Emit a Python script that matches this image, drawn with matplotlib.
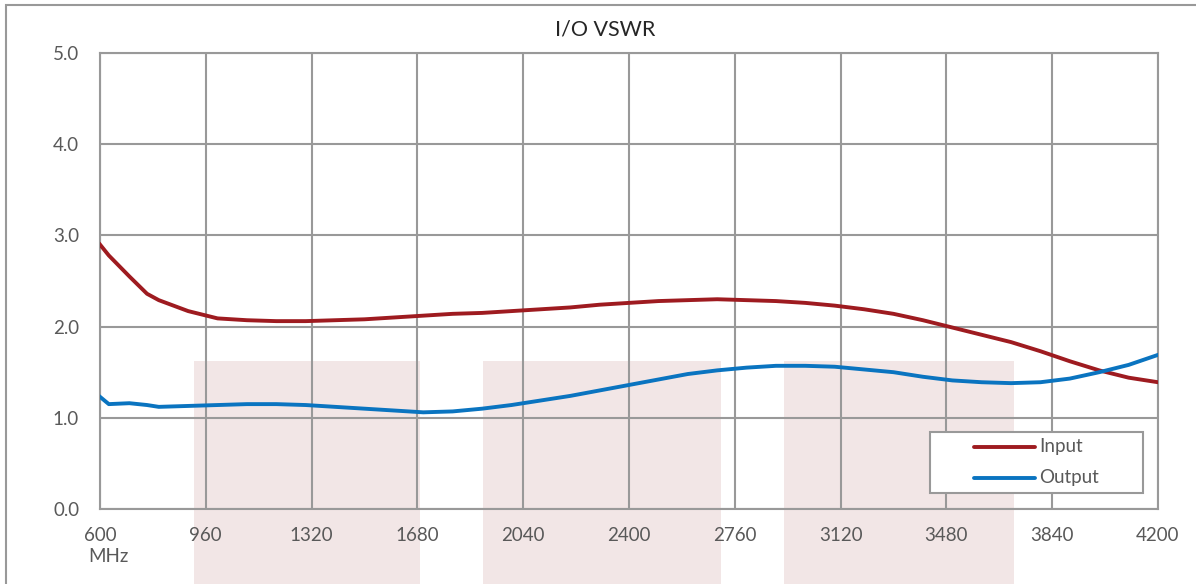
import matplotlib
matplotlib.use("Agg")
import matplotlib.pyplot as plt
from matplotlib.patches import Rectangle

plt.rcParams['font.family'] = ['Lato', 'DejaVu Sans']

# frequency (MHz)
freq = [600, 630, 700, 760, 800, 900, 1000, 1100, 1200, 1300, 1400, 1500, 1600, 1700,
        1800, 1900, 2000, 2100, 2200, 2300, 2400, 2500, 2600, 2700, 2800, 2900, 3000,
        3100, 3200, 3300, 3400, 3500, 3600, 3700, 3800, 3900, 4000, 4100, 4200]
vswr_in = [2.90, 2.78, 2.55, 2.36, 2.29, 2.17, 2.09, 2.07, 2.06, 2.06, 2.07, 2.08, 2.10, 2.12,
           2.14, 2.15, 2.17, 2.19, 2.21, 2.24, 2.26, 2.28, 2.29, 2.30, 2.29, 2.28, 2.26,
           2.23, 2.19, 2.14, 2.07, 1.99, 1.91, 1.83, 1.73, 1.62, 1.52, 1.44, 1.39]
vswr_out = [1.23, 1.15, 1.16, 1.14, 1.12, 1.13, 1.14, 1.15, 1.15, 1.14, 1.12, 1.10, 1.08, 1.06,
            1.07, 1.10, 1.14, 1.19, 1.24, 1.30, 1.36, 1.42, 1.48, 1.52, 1.55, 1.57, 1.57,
            1.56, 1.53, 1.50, 1.45, 1.41, 1.39, 1.38, 1.39, 1.43, 1.50, 1.58, 1.69]

# shaded bands (MHz) and their top level
bands = [(920, 1690), (1903, 2713), (2927, 3710)]
band_top = 1.62

xticks = list(range(600, 4201, 360))
yticks = [0, 1, 2, 3, 4, 5]

fig = plt.figure(figsize=(11.96, 5.84), dpi=100)
ax = fig.add_axes([100/1196, 75/584, 1058/1196, 456/584])
ax.patch.set_alpha(0)

grid_c = '#999999'
txt_c = '#595959'

# outer chart border
fig.patches.append(Rectangle((6/1196, -0.1), 1.2, 1.1 - 5/584, transform=fig.transFigure,
                             fill=False, edgecolor=grid_c, lw=1.5))

for a, b in bands:
    ax.add_patch(Rectangle((a, -2), b - a, band_top + 2, facecolor='#f2e6e6',
                           edgecolor='none', zorder=0.2, clip_on=False))

ax.plot(freq, vswr_in, color='#9e1b20', lw=2.8, zorder=3)
ax.plot(freq, vswr_out, color='#0a74c0', lw=2.8, zorder=3)

ax.set_xlim(600, 4200)
ax.set_ylim(0, 5)
ax.set_xticks(xticks)
ax.set_yticks(yticks)
ax.set_yticklabels([f"{v:.1f}" for v in yticks])
ax.grid(True, color=grid_c, lw=1.5)
ax.set_axisbelow(True)
for s in ax.spines.values():
    s.set_color(grid_c)
    s.set_linewidth(1.5)
ax.tick_params(length=0, labelsize=13.5, labelcolor=txt_c)
ax.tick_params(axis='x', pad=13)
ax.tick_params(axis='y', pad=15)

fig.text(108/1196, (584-556)/584, 'MHz', ha='center', va='center', fontsize=13.5, color=txt_c)
fig.text(605/1196, (584-30)/584, 'I/O VSWR', ha='center', va='center', fontsize=15.5, color='#262626')

# legend box
ax.add_patch(Rectangle((0.7845, 0.035), 0.2013, 0.134, transform=ax.transAxes,
                       facecolor='white', edgecolor=grid_c, lw=1.5, zorder=5))
for yy, c, lab in [(0.136, '#9e1b20', 'Input'), (0.068, '#0a74c0', 'Output')]:
    ax.plot([0.826, 0.884], [yy, yy], color=c, lw=2.8, transform=ax.transAxes,
            zorder=6, solid_capstyle='round')
    ax.text(0.888, yy, lab, transform=ax.transAxes, va='center', ha='left',
            fontsize=13.5, color=txt_c, zorder=6)

fig.savefig('out.png', dpi=100)
